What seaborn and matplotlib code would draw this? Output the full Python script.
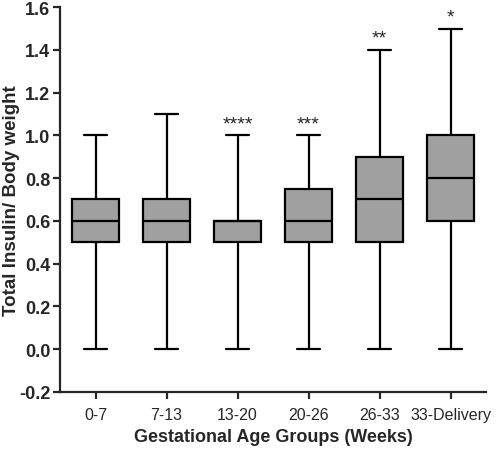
import numpy as np
import pandas as pd
import matplotlib
matplotlib.use("Agg")
import matplotlib.pyplot as plt
import seaborn as sns

# Five-number summaries (min, Q1, median, Q3, max)
groups = ["0-7", "7-13", "13-20", "20-26", "26-33", "33-Delivery"]
mins = [0.0, 0.0, 0.0, 0.0, 0.0, 0.0]
q1 = [0.5, 0.5, 0.5, 0.5, 0.5, 0.6]
medians = [0.6, 0.6, 0.6, 0.6, 0.7, 0.8]
q3 = [0.7, 0.7, 0.6, 0.75, 0.9, 1.0]
maxs = [1.0, 1.1, 1.0, 1.0, 1.4, 1.5]
stars = ["", "", "****", "***", "**", "*"]

# five points per group reproduce the quartiles exactly
rows = []
for g, a, b, c, d, e in zip(groups, mins, q1, medians, q3, maxs):
    for v in (a, b, c, d, e):
        rows.append({"Group": g, "Value": v})
df = pd.DataFrame(rows)

sns.set_style("ticks")
plt.rcParams["font.family"] = ["Liberation Sans", "DejaVu Sans"]

fig, ax = plt.subplots(figsize=(5, 4.52), dpi=100)
fig.subplots_adjust(left=0.12, right=0.972, top=0.982, bottom=0.131)

lw = 1.6
sns.boxplot(data=df, x="Group", y="Value", order=groups, whis=(0, 100),
            width=0.66, color="#a0a0a0", saturation=1, linewidth=lw,
            linecolor="black", showfliers=False, ax=ax)

for i, (s, m) in enumerate(zip(stars, maxs)):
    if s:
        ax.text(i, m + 0.015, s, ha="center", va="bottom", fontsize=14)

ax.set_xlim(-0.5, 5.5)
ax.set_ylim(-0.2, 1.6)
ax.set_yticks(np.arange(-0.2, 1.61, 0.2))
ax.set_yticklabels([f"{t:.1f}" for t in np.arange(-0.2, 1.61, 0.2)],
                   fontweight="bold", fontsize=13)
ax.tick_params(axis="x", labelsize=11.5, width=lw, length=5, pad=6)
ax.tick_params(axis="y", width=lw, length=5, pad=2)
ax.set_xlabel("Gestational Age Groups (Weeks)", fontsize=13,
              fontweight="bold", labelpad=4)
ax.set_ylabel("Total Insulin/ Body weight", fontsize=13.5, fontweight="bold")
ax.yaxis.set_label_coords(-0.094, 0.5)
for sp in ("left", "bottom"):
    ax.spines[sp].set_linewidth(lw)
sns.despine(ax=ax)

fig.savefig("out.png", dpi=100)
